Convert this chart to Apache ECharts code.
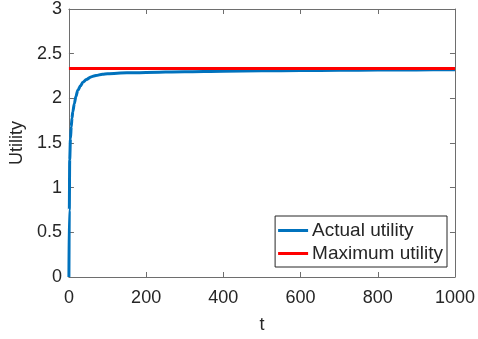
<!DOCTYPE html>
<html><head><meta charset="utf-8">
<script src="https://cdn.jsdelivr.net/npm/echarts@6/dist/echarts.min.js"></script>
<style>html,body{margin:0;padding:0;background:#fff}#c{width:478px;height:339px}</style>
</head><body><div id="c"></div>
<script>
const tActual = [0,1,2,4,6,8,10,14,18,23,30,36,45,57,70,87,100,150,200,300,400,500,600,700,800,900,1000];
const uActual = [0,0.75,1.31,1.55,1.68,1.78,1.85,1.94,2.02,2.09,2.14,2.18,2.21,2.24,2.255,2.27,2.275,2.285,2.29,2.298,2.304,2.308,2.311,2.314,2.316,2.318,2.32];
const tMax = [0,1000];
const uMax = [2.335,2.335];
const xTicks = {min:0,max:1000,interval:200};
const yTicks = {min:0,max:3,interval:0.5};

const font = 'Liberation Sans, Arial, Helvetica, sans-serif';
const txt = '#262626';
const axisCol = '#6e6e6e';
const chart = echarts.init(document.getElementById('c'));
function ax(extra){
  return Object.assign({
    axisLine:{show:true,onZero:false,lineStyle:{color:axisCol,width:1}},
    axisTick:{show:true,inside:true,length:5,lineStyle:{color:axisCol,width:1}},
    splitLine:{show:false}
  },extra);
}
chart.setOption({
  animation:false,
  textStyle:{fontFamily:font},
  grid:{left:64,right:21,top:8,bottom:61,containLabel:false},
  legend:{
    orient:'vertical', right:31, bottom:72,
    backgroundColor:'#fff', borderColor:'#262626', borderWidth:1, borderRadius:0,
    padding:[5,4,4,3], itemGap:4, itemWidth:30, itemHeight:3,
    textStyle:{fontSize:19,color:txt,fontFamily:font,padding:[0,0,0,-1]},
    data:[{name:'Actual utility',icon:'rect'},{name:'Maximum utility',icon:'rect'}]
  },
  xAxis:[
    ax({type:'value',position:'bottom',min:xTicks.min,max:xTicks.max,interval:xTicks.interval,
      name:'t',nameLocation:'middle',nameGap:39,nameTextStyle:{fontSize:18,color:txt},
      axisLabel:{fontSize:18,color:txt,margin:12,formatter:v=>String(v)}}),
    ax({type:'value',position:'top',min:xTicks.min,max:xTicks.max,interval:xTicks.interval,
      axisLabel:{show:false}})
  ],
  yAxis:[
    ax({type:'value',position:'left',min:yTicks.min,max:yTicks.max,interval:yTicks.interval,
      name:'Utility',nameLocation:'middle',nameGap:38,nameTextStyle:{fontSize:18,color:txt},
      axisLabel:{fontSize:18,color:txt,margin:7}}),
    ax({type:'value',position:'right',min:yTicks.min,max:yTicks.max,interval:yTicks.interval,
      axisLabel:{show:false}})
  ],
  series:[
    {name:'Actual utility',type:'line',xAxisIndex:0,yAxisIndex:0,showSymbol:false,smooth:0.3,smoothMonotone:'x',
      lineStyle:{color:'#0072BD',width:3},itemStyle:{color:'#0072BD'},
      data:tActual.map((t,i)=>[t,uActual[i]]),z:2},
    {name:'Maximum utility',type:'line',xAxisIndex:0,yAxisIndex:0,showSymbol:false,
      lineStyle:{color:'#FF0000',width:3},itemStyle:{color:'#FF0000'},
      data:tMax.map((t,i)=>[t,uMax[i]]),z:3}
  ]
});
</script></body></html>
